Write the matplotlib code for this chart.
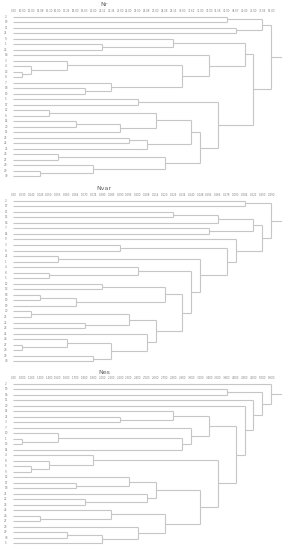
import matplotlib
matplotlib.use('Agg')
import matplotlib.pyplot as plt

# leaf labels, top to bottom (best guess)
nr_labels = ['2', '19', '11', '21', '9', '1', '22', '16', '3', '4', '13', '8', '7', '18', '10',
             '5', '17', '12', '6', '14', '20', '15', '23', '24', '25', '26', '27', '28', '29', '30']
nvar_labels = ['2', '17', '11', '15', '16', '7', '14', '9', '3', '6', '25', '1', '4', '8', '5',
               '12', '13', '18', '10', '19', '20', '21', '22', '23', '24', '26', '27', '28', '29', '30']
nes_labels = ['2', '19', '16', '11', '20', '15', '25', '3', '7', '10', '1', '13', '14', '4', '8',
              '6', '9', '12', '17', '18', '21', '22', '23', '24', '26', '27', '28', '29', '30', '5']

# merges in order (leaf = row index, cluster = 30 + merge number - 1)
nr_merges = [(10, 11), (9, 30), (28, 29), (17, 18), (25, 26), (8, 31), (19, 20), (13, 14),
             (27, 32), (5, 6), (12, 37), (36, 21), (22, 23), (15, 16), (42, 24), (33, 41),
             (34, 38), (4, 39), (35, 40), (45, 44), (49, 46), (7, 48), (43, 50), (0, 1),
             (2, 3), (47, 51), (55, 52), (53, 54), (57, 56)]
nvar_merges = [(26, 27), (20, 21), (17, 18), (13, 14), (10, 11), (25, 30), (32, 19), (22, 23),
               (28, 29), (15, 16), (35, 38), (8, 9), (31, 37), (12, 33), (24, 40), (42, 44),
               (39, 36), (2, 3), (46, 45), (43, 48), (34, 49), (5, 6), (47, 4), (41, 50),
               (7, 53), (0, 1), (52, 51), (56, 54), (55, 57)]
nes_merges = [(10, 11), (15, 16), (24, 25), (14, 31), (9, 30), (27, 28), (18, 19), (21, 22),
              (13, 33), (35, 29), (23, 32), (6, 7), (17, 36), (26, 39), (20, 37), (42, 44),
              (40, 43), (5, 41), (34, 12), (8, 48), (45, 46), (47, 49), (38, 50), (1, 2),
              (51, 52), (4, 54), (3, 55), (53, 56), (0, 57)]

# axis labels at each merge level (too small to read, estimated)
nr_ticks = ['0.00', '10.00', '12.00', '14.08', '15.10', '16.00', '17.26', '18.00', '19.03', '20.00',
            '21.12', '22.36', '23.00', '24.00', '25.50', '26.08', '27.00', '28.28', '29.15', '30.00',
            '31.62', '32.00', '33.00', '34.18', '36.00', '38.07', '40.00', '43.00', '47.56', '52.00']
nvar_ticks = ['0.00', '0.030', '0.040', '0.045', '0.050', '0.055', '0.060', '0.064', '0.070', '0.074',
              '0.080', '0.085', '0.090', '0.096', '0.100', '0.108', '0.114', '0.120', '0.126', '0.134',
              '0.140', '0.148', '0.156', '0.166', '0.178', '0.190', '0.204', '0.222', '0.250', '0.290']
nes_ticks = ['0.00', '1.000', '1.200', '1.300', '1.400', '1.500', '1.600', '1.700', '1.800', '1.900',
             '2.000', '2.100', '2.200', '2.300', '2.400', '2.500', '2.600', '2.700', '2.800', '2.900',
             '3.000', '3.200', '3.400', '3.600', '3.800', '4.000', '4.300', '4.600', '5.000', '5.600']

LINE = '#c6c6c6'
TEXT = '#808080'
W, H = 289, 550
X0, DX = 13.4, 8.89   # pixel of leaves and pixel per merge step

fig = plt.figure(figsize=(W / 100, H / 100), dpi=100)


def panel(title, labels, merges, ticks, top, bottom, title_y):
    n = len(labels)
    step = (bottom - top) / (n - 1)
    y0 = top - step / 2
    y1 = bottom + step / 2
    ax = fig.add_axes([0, 1 - y1 / H, 1, (y1 - y0) / H])
    ax.set_xlim(-X0 / DX, (W - X0) / DX)
    ax.set_ylim(n - 0.5, -0.5)
    pos = {i: (0.0, float(i)) for i in range(n)}
    for k, (a, b) in enumerate(merges, start=1):
        ha, ya = pos[a]
        hb, yb = pos[b]
        ax.plot([ha, k], [ya, ya], color=LINE, lw=0.8, solid_capstyle='butt')
        ax.plot([hb, k], [yb, yb], color=LINE, lw=0.8, solid_capstyle='butt')
        ax.plot([k, k], [ya, yb], color=LINE, lw=0.8, solid_capstyle='butt')
        pos[n + k - 1] = (k, (ya + yb) / 2)
    rh, ry = pos[n + len(merges) - 1]
    ax.plot([rh, rh + 1.06], [ry, ry], color=LINE, lw=0.8)
    for i, lab in enumerate(labels):
        ax.text(-0.83, i, lab, fontsize=2, color=TEXT, ha='center', va='center')
    ax.xaxis.tick_top()
    ax.set_xticks(range(len(ticks)))
    ax.set_xticklabels(ticks, fontsize=1.9, color=TEXT)
    ax.tick_params(axis='x', length=0, pad=1)
    ax.set_yticks([])
    for s in ax.spines.values():
        s.set_visible(False)
    ax.patch.set_alpha(0)
    fig.text(104 / W, 1 - title_y / H, title, fontsize=4.5, color='#606060',
             ha='center', va='center')


panel('Nr', nr_labels, nr_merges, nr_ticks, 16.7, 176.0, 5.0)
panel('Nvar', nvar_labels, nvar_merges, nvar_ticks, 200.7, 361.3, 188.5)
panel('Nes', nes_labels, nes_merges, nes_ticks, 384.0, 543.3, 372.5)

fig.savefig('out.png', dpi=100, facecolor='white')
